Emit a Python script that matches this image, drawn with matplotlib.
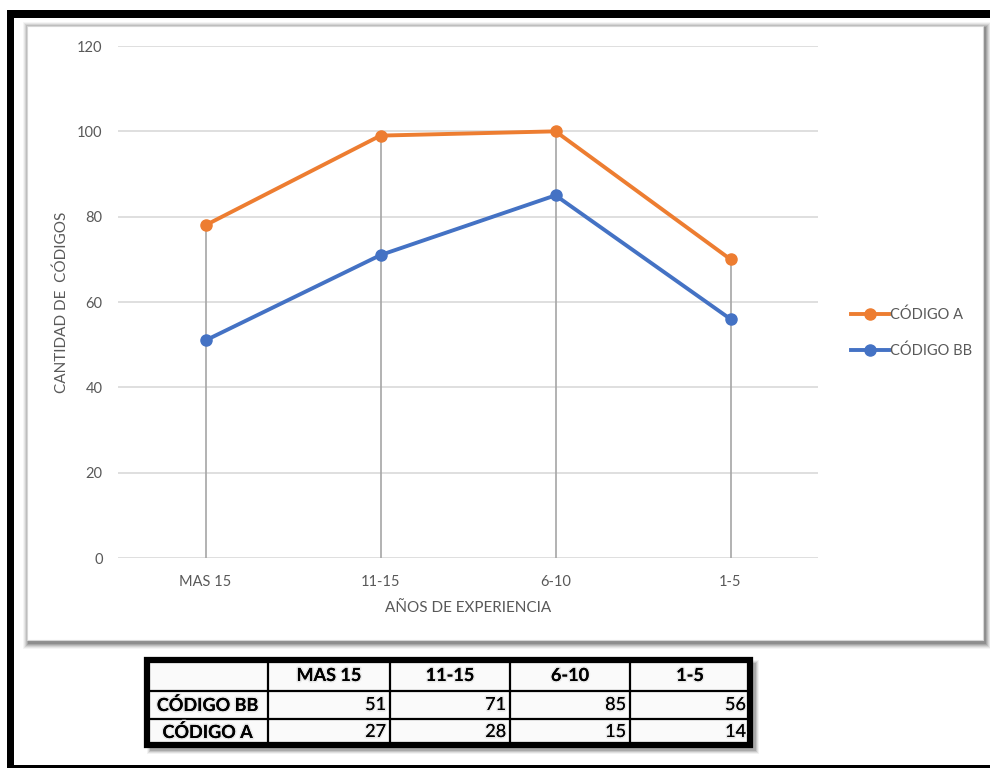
import matplotlib
matplotlib.use("Agg")
import matplotlib.pyplot as plt
from matplotlib.patches import Rectangle
from matplotlib.lines import Line2D
import matplotlib.patheffects as pe

plt.rcParams['font.family'] = ['Lato', 'DejaVu Sans']

# Data
categories = ["MAS 15", "11-15", "6-10", "1-5"]
codigo_bb = [51, 71, 85, 56]
codigo_a = [27, 28, 15, 14]
series_names = ["CÓDIGO BB", "CÓDIGO A"]
y_ticks = [0, 20, 40, 60, 80, 100, 120]

# Stacked totals (CÓDIGO A sits on top of CÓDIGO BB)
stack_top = [b + a for b, a in zip(codigo_bb, codigo_a)]

ORANGE = "#ED7D31"
BLUE = "#4472C4"
TEXT = "#595959"
GRID = "#D9D9D9"
DROP = "#A6A6A6"

W, H = 990, 770
fig = plt.figure(figsize=(W / 100, H / 100), dpi=100)
fig.patch.set_facecolor("white")


def px_rect(x0, y0, x1, y1, **kw):
    """Rectangle given in pixel coordinates (origin top-left)."""
    return Rectangle((x0 / W, 1 - y1 / H), (x1 - x0) / W, (y1 - y0) / H,
                     transform=fig.transFigure, **kw)


# Outer black frame (top, left, bottom)
fig.patches.append(px_rect(7, 10, 990, 18, facecolor="black", edgecolor="none", zorder=0))
fig.patches.append(px_rect(7, 10, 14, 768, facecolor="black", edgecolor="none", zorder=0))
fig.patches.append(px_rect(7, 765, 990, 768, facecolor="black", edgecolor="none", zorder=0))

# Soft shadow around the chart panel
for i, a in enumerate([0.04, 0.06, 0.08, 0.10, 0.12, 0.14]):
    g = 6 - i
    fig.patches.append(px_rect(27 - g + 2, 26 - g + 2, 983 + g + 2, 640 + g + 3,
                               facecolor="black", alpha=a, edgecolor="none", zorder=0.5))
fig.patches.append(px_rect(27, 26, 983, 640, facecolor="white", edgecolor="#D6D6D6",
                           linewidth=0.8, zorder=1))

# Plot area
ax = fig.add_axes([118 / W, 1 - 558 / H, 700 / W, 512 / H])
ax.set_zorder(2)
ax.patch.set_visible(False)
x = list(range(len(categories)))
ax.set_xlim(-0.5, len(categories) - 0.5)
ax.set_ylim(0, 120)
ax.set_yticks(y_ticks)
ax.set_xticks(x)
ax.set_xticklabels(categories)
ax.yaxis.grid(True, color=GRID, linewidth=1.2)
ax.set_axisbelow(True)
for s in ax.spines.values():
    s.set_visible(False)
ax.tick_params(axis="both", length=0, colors=TEXT, labelsize=10.5)
ax.tick_params(axis="y", pad=11)
ax.tick_params(axis="x", pad=12)

# Drop lines from the axis to the top of the stack
ax.vlines(x, 0, stack_top, color=DROP, linewidth=1.2, zorder=2)

ax.plot(x, stack_top, color=ORANGE, linewidth=2.8, marker="o", markersize=8,
        label="CÓDIGO A", zorder=4, solid_capstyle="round")
ax.plot(x, codigo_bb, color=BLUE, linewidth=2.8, marker="o", markersize=8,
        label="CÓDIGO BB", zorder=4, solid_capstyle="round")

ax.set_xlabel("AÑOS DE EXPERIENCIA", color=TEXT, fontsize=11, labelpad=9)
ax.set_ylabel("CANTIDAD DE  CÓDIGOS", color=TEXT, fontsize=11, labelpad=6)

leg = fig.legend(handles=[
    Line2D([], [], color=ORANGE, linewidth=2.8, marker="o", markersize=8),
    Line2D([], [], color=BLUE, linewidth=2.8, marker="o", markersize=8)],
    labels=["CÓDIGO A", "CÓDIGO BB"], loc="center left",
    bbox_to_anchor=(838 / W, 1 - 333 / H), frameon=False, fontsize=10.5,
    handlelength=2.6, handletextpad=0.1, labelspacing=1.45, labelcolor=TEXT)

# Data table beneath the chart
col_edges = [147, 268, 390, 510, 630, 750]
row_edges = [660, 691, 719, 745]
shadow_fx = [pe.withStroke(linewidth=2.2, foreground="#E8E8E8"), pe.Normal()]

for i, a in enumerate([0.05, 0.08, 0.11, 0.14]):
    g = 4 - i
    fig.patches.append(px_rect(col_edges[0] - g + 4, row_edges[0] - g + 4,
                               col_edges[-1] + g + 5, row_edges[-1] + g + 5,
                               facecolor="black", alpha=a, edgecolor="none", zorder=1))
fig.patches.append(px_rect(col_edges[0], row_edges[0], col_edges[-1], row_edges[-1],
                           facecolor="#FAFAFA", edgecolor="none", zorder=2))
for xe in col_edges[1:-1]:
    fig.lines.append(Line2D([xe / W, xe / W], [1 - row_edges[0] / H, 1 - row_edges[-1] / H],
                            transform=fig.transFigure, color="black", linewidth=1.6, zorder=3))
for ye in row_edges[1:-1]:
    fig.lines.append(Line2D([col_edges[0] / W, col_edges[-1] / W], [1 - ye / H, 1 - ye / H],
                            transform=fig.transFigure, color="black", linewidth=1.6, zorder=3))
fig.patches.append(px_rect(col_edges[0], row_edges[0], col_edges[-1], row_edges[-1],
                           facecolor="none", edgecolor="black", linewidth=4.5, zorder=4))

# Header row
for j, cat in enumerate(categories):
    cx = (col_edges[j + 1] + col_edges[j + 2]) / 2
    cy = (row_edges[0] + row_edges[1]) / 2
    fig.text(cx / W, 1 - cy / H, cat, ha="center", va="center", fontsize=13,
             fontweight="bold", color="black", path_effects=shadow_fx, zorder=5)

# Body rows
rows = [codigo_bb, codigo_a]
for r, (name, vals) in enumerate(zip(series_names, rows)):
    cy = (row_edges[r + 1] + row_edges[r + 2]) / 2
    fig.text((col_edges[0] + col_edges[1]) / 2 / W, 1 - cy / H, name, ha="center",
             va="center", fontsize=13, fontweight="bold", color="black",
             path_effects=shadow_fx, zorder=5)
    for j, v in enumerate(vals):
        fig.text((col_edges[j + 2] - 4) / W, 1 - cy / H, str(v), ha="right", va="center",
                 fontsize=13, color="black", path_effects=shadow_fx, zorder=5)

fig.savefig("out.png", dpi=100)
